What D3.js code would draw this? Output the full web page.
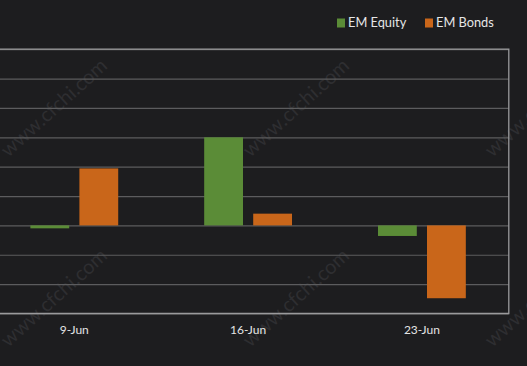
<!DOCTYPE html>
<html>
<head>
<meta charset="utf-8">
<script src="https://cdn.jsdelivr.net/npm/d3@7"></script>
<style>
  html, body { margin: 0; padding: 0; background: #1d1d1f; }
  svg { display: block; }
</style>
</head>
<body>
<svg id="chart" width="527" height="366"></svg>
<script>
const categories = ["9-Jun", "16-Jun", "23-Jun"];
const seriesNames = ["EM Equity", "EM Bonds"];
const emEquity = [-0.1, 3.0, -0.36];
const emBonds = [1.94, 0.4, -2.48];
const yTicks = [-3, -2, -1, 0, 1, 2, 3, 4, 5, 6];
const colors = ["#5b8c37", "#c9661a"];
const watermarkText = "www.cfchi.com";

const W = 527, H = 366;
const plot = { left: -12.6, right: 508.8, top: 49.2, bottom: 313.5 };

const svg = d3.select("#chart");
svg.append("rect").attr("width", W).attr("height", H).attr("fill", "#1d1d1f");

// watermark
const wm = svg.append("g");
[[55, 109], [297, 109], [539, 109], [55, 299], [297, 299], [539, 299]].forEach(([cx, cy]) => {
  wm.append("text")
    .attr("transform", `translate(${cx},${cy}) rotate(-42)`)
    .attr("text-anchor", "middle")
    .attr("dominant-baseline", "middle")
    .attr("font-family", "Lato, 'Open Sans', sans-serif")
    .attr("font-size", 20)
    .attr("fill", "#2e2e31")
    .text(watermarkText);
});

const x0 = d3.scaleBand().domain(categories).range([plot.left, plot.right]).paddingInner(0).paddingOuter(0);
const x1 = d3.scaleBand().domain(seriesNames).range([0, x0.bandwidth()]).paddingInner(0.208).paddingOuter(0.877);
const y = d3.scaleLinear().domain([-3, 6]).range([plot.bottom, plot.top]);

// gridlines
const grid = svg.append("g")
  .attr("transform", `translate(${plot.left},0)`)
  .call(d3.axisLeft(y).tickValues(yTicks).tickSize(-(plot.right - plot.left)).tickFormat(""));
grid.select(".domain").remove();
grid.selectAll(".tick line").attr("stroke", "#5c5c5e").attr("stroke-width", 1.2);

// bars
const data = categories.map((c, i) => ({ cat: c, values: [emEquity[i], emBonds[i]] }));
const groups = svg.append("g").selectAll("g").data(data).join("g")
  .attr("transform", d => `translate(${x0(d.cat)},0)`);
groups.selectAll("rect").data(d => d.values.map((v, j) => ({ key: seriesNames[j], v, j })))
  .join("rect")
  .attr("x", d => x1(d.key))
  .attr("width", x1.bandwidth())
  .attr("y", d => y(Math.max(0, d.v)))
  .attr("height", d => Math.abs(y(d.v) - y(0)))
  .attr("fill", d => colors[d.j]);

// plot border (top, right, bottom)
svg.append("path")
  .attr("d", `M${plot.left},${plot.top}H${plot.right}V${plot.bottom}H${plot.left}`)
  .attr("fill", "none")
  .attr("stroke", "#9a9a9c")
  .attr("stroke-width", 1.3);

// x axis labels
const xAxis = svg.append("g")
  .attr("transform", `translate(0,${plot.bottom})`)
  .call(d3.axisBottom(x0).tickSize(0).tickPadding(12));
xAxis.select(".domain").remove();
xAxis.selectAll("text")
  .attr("font-family", "Lato, 'Open Sans', sans-serif")
  .attr("font-size", 12)
  .attr("fill", "#e4e4e4");

// legend
const legendX = [337, 425];
const legend = svg.append("g");
seriesNames.forEach((name, j) => {
  legend.append("rect").attr("x", legendX[j]).attr("y", 18.5).attr("width", 8).attr("height", 9).attr("fill", colors[j]);
  legend.append("text")
    .attr("x", legendX[j] + 11)
    .attr("y", 27)
    .attr("font-family", "Lato, 'Open Sans', sans-serif")
    .attr("font-size", 12.8)
    .attr("fill", "#e6e6e6")
    .text(name);
});
</script>
</body>
</html>
